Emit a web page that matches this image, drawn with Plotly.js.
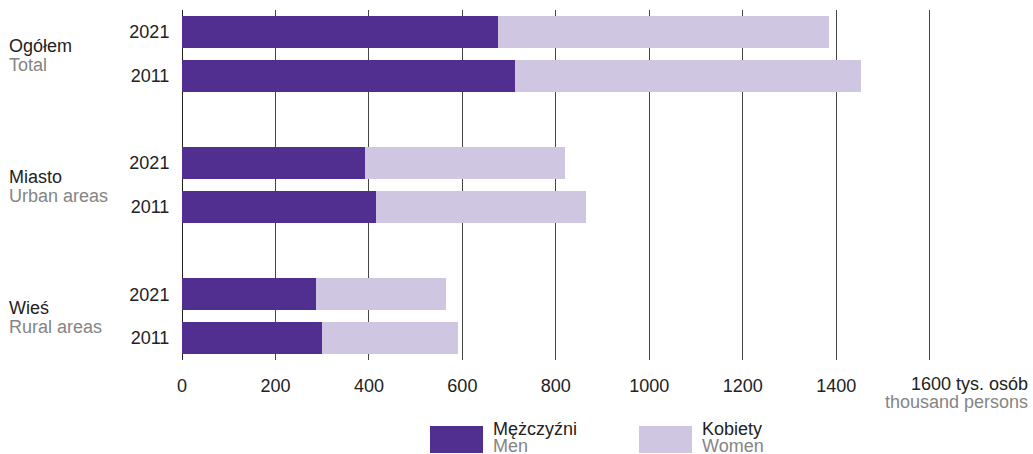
<!DOCTYPE html>
<html>
<head>
<meta charset="utf-8">
<script src="https://cdn.plot.ly/plotly-3.0.1.min.js"></script>
<style>html,body{margin:0;padding:0;background:#fff;}#chart{width:1033px;height:454px;}</style>
</head>
<body>
<div id="chart"></div>
<script>
// ---- data ----
const groupsPL = ["Ogółem", "Miasto", "Wieś"];
const groupsEN = ["Total", "Urban areas", "Rural areas"];
const years = ["2021", "2011"];
// values in thousand persons, order: [group][year]
const men = [676, 712, 391, 415, 287, 300];
const women = [708, 740, 428, 449, 278, 290];
const xTicks = [0, 200, 400, 600, 800, 1000, 1200, 1400, 1600];
const xUnitPL = "tys. osób";
const xUnitEN = "thousand persons";
const seriesPL = ["Mężczyźni", "Kobiety"];
const seriesEN = ["Men", "Women"];

// ---- layout helpers ----
const W = 1033, H = 454;
const L = 182, R = 101, T = 10, B = 454 - 360;
const plotW = W - L - R, plotH = H - T - B;
const px2x = p => (p - L) / plotW;
const py2y = p => (H - B - p) / plotH;

const COL_MEN = "#512F91";
const COL_WOMEN = "#CFC6E1";
const TXT = "#222222";
const GREY = "#858585";
const FONT = "Liberation Sans, Arial, sans-serif";
const FS = 18;

// slot positions: group g, year i -> g*3 + i
const ypos = [], ylab = [];
groupsPL.forEach((g, gi) => years.forEach((yr, yi) => { ypos.push(gi * 3 + yi); ylab.push(yr); }));

const traces = [
  {type: "bar", orientation: "h", x: men, y: ypos, name: seriesPL[0],
   marker: {color: COL_MEN, line: {width: 0}}, width: 0.732, hoverinfo: "skip", showlegend: false},
  {type: "bar", orientation: "h", x: women, y: ypos, name: seriesPL[1],
   marker: {color: COL_WOMEN, line: {width: 0}}, width: 0.732, hoverinfo: "skip", showlegend: false}
];

const annotations = [];
groupsPL.forEach((g, gi) => {
  const yc = gi * 3 + 0.5;
  annotations.push({xref: "paper", yref: "y", x: px2x(7), y: yc, xanchor: "left", yanchor: "middle",
    text: g, showarrow: false, yshift: 8, font: {family: FONT, size: FS, color: TXT}});
  annotations.push({xref: "paper", yref: "y", x: px2x(7), y: yc, xanchor: "left", yanchor: "middle",
    text: groupsEN[gi], showarrow: false, yshift: -11, font: {family: FONT, size: FS, color: GREY}});
});
// last x tick label with unit
annotations.push({xref: "paper", yref: "paper", x: px2x(1030), y: py2y(384), xanchor: "right", yanchor: "middle",
  text: xTicks[xTicks.length - 1] + " " + xUnitPL, showarrow: false, font: {family: FONT, size: FS, color: TXT}});
annotations.push({xref: "paper", yref: "paper", x: px2x(1030), y: py2y(402), xanchor: "right", yanchor: "middle",
  text: xUnitEN, showarrow: false, font: {family: FONT, size: FS, color: GREY}});

// legend
const legBoxes = [[430, 483], [639, 692]];
const legCols = [COL_MEN, COL_WOMEN];
const shapes = [];
legBoxes.forEach((b, i) => {
  shapes.push({type: "rect", xref: "paper", yref: "paper", x0: px2x(b[0]), x1: px2x(b[1]),
    y0: py2y(426), y1: py2y(453), fillcolor: legCols[i], line: {width: 0}});
  annotations.push({xref: "paper", yref: "paper", x: px2x(b[1] + 8), y: py2y(429), xanchor: "left", yanchor: "middle",
    text: seriesPL[i], showarrow: false, font: {family: FONT, size: FS, color: TXT}});
  annotations.push({xref: "paper", yref: "paper", x: px2x(b[1] + 8), y: py2y(446), xanchor: "left", yanchor: "middle",
    text: seriesEN[i], showarrow: false, font: {family: FONT, size: FS, color: GREY}});
});

const layout = {
  width: W, height: H,
  margin: {l: L, r: R, t: T, b: B, pad: 0},
  paper_bgcolor: "#fff", plot_bgcolor: "#fff",
  barmode: "stack",
  showlegend: false,
  font: {family: FONT, size: FS, color: TXT},
  xaxis: {
    range: [0, 1605], fixedrange: true,
    tickvals: xTicks,
    ticktext: xTicks.map((v, i) => i === xTicks.length - 1 ? "" : String(v)),
    showgrid: true, gridcolor: "#444", gridwidth: 1,
    zeroline: true, zerolinecolor: "#222", zerolinewidth: 1,
    showline: false, ticks: "outside", ticklen: 9, tickcolor: "rgba(0,0,0,0)",
    tickfont: {family: FONT, size: FS, color: TXT}
  },
  yaxis: {
    range: [7.5, -0.5], fixedrange: true,
    tickvals: ypos, ticktext: ylab,
    showgrid: false, zeroline: false, showline: false,
    ticks: "outside", ticklen: 8, tickcolor: "rgba(0,0,0,0)",
    tickfont: {family: FONT, size: FS, color: TXT}
  },
  annotations: annotations,
  shapes: shapes
};

Plotly.newPlot("chart", traces, layout, {staticPlot: true, displayModeBar: false});
</script>
</body>
</html>
